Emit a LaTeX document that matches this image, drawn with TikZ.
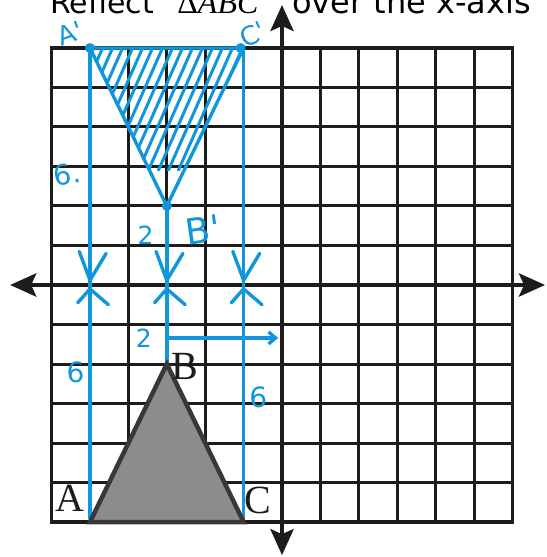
\documentclass[tikz,border=0pt]{standalone}
\usepackage{fontspec}
\usepackage{xcolor}
\usetikzlibrary{arrows.meta}
\newfontfamily\titlefont{DejaVu Sans}
\newfontfamily\handfont{DejaVu Sans}
\newfontfamily\printfont{Liberation Serif}
\definecolor{pen}{RGB}{18,150,218}
\definecolor{ink}{RGB}{28,28,28}

\begin{document}
\begin{tikzpicture}[x=38.4pt, y=39.5pt,
    gridline/.style={line width=3pt, ink},
    axisline/.style={line width=4.5pt, ink, >={Stealth[length=26pt, width=23pt, inset=5pt]}, <->},
    marker/.style={line width=3.4pt, pen, line cap=round, line join=round},
    hatchline/.style={line width=3pt, pen, line cap=round},
    penlabel/.style={pen, inner sep=0pt, font=\handfont\fontsize{28}{28}\selectfont},
    vertexlabel/.style={ink, inner sep=0pt, font=\printfont\fontsize{40}{40}\selectfont}]
    \useasboundingbox (-7.344,-6.886) rectangle (6.875,7.215);

    % Title
    \node[anchor=base west, inner sep=0pt, font=\titlefont\fontsize{30}{30}\selectfont] (title1) at (-6.04,6.87) {Reflect};
    \node[anchor=base west, inner sep=0pt, font=\printfont\fontsize{32}{32}\selectfont] (title2) at (-2.73,6.87) {Δ\textit{ABC}};
    \node[anchor=base west, inner sep=0pt, font=\titlefont\fontsize{32}{32}\selectfont] (title3) at (0.26,6.87) {over the x-axis};

    % Grid and axes
    \draw[gridline, step=1] (-6,-6) grid (6,6);
    \draw[gridline, line width=3.4pt] (-6,-6) rectangle (6,6);
    \draw[axisline] (-7.08,0) -- (6.85,0);
    \draw[axisline] (0,-6.84) -- (0,7.09);

    % Vertices
    \coordinate (A) at (-5,-6);
    \coordinate (B) at (-3,-2);
    \coordinate (C) at (-1,-6);
    \coordinate (Ar) at (-5,6);
    \coordinate (Br) at (-3,2);
    \coordinate (Cr) at (-1,6);
    \coordinate (tip) at (-0.1,-1.34);
    \coordinate (tail) at (-3,-1.34);

    % Blue construction lines
    \draw[marker] (-5,-5.9) -- (Ar);
    \draw[marker] (-1,-5.9) -- (Cr);
    \draw[marker] (B) -- (Br);
    \draw[marker, -{Straight Barb[length=7pt, width=12pt]}] (tail) -- (tip);
    \foreach \x in {-5,-3,-1} {
        \draw[marker] (\x-0.28,0.85) -- (\x,0.12) -- (\x+0.42,0.8);
        \draw[marker] (\x-0.32,-0.45) -- (\x,-0.1) -- (\x+0.48,-0.5);
    }

    % Original triangle
    \draw[line width=4.5pt, black!78, fill=black!45, line join=miter] (A) -- (B) -- (C) -- cycle;
    \node[vertexlabel] (labelA) at (-5.52,-5.4) {A};
    \node[vertexlabel] (labelB) at (-2.54,-2.05) {B};
    \node[vertexlabel] (labelC) at (-0.62,-5.45) {C};

    % Reflected triangle
    \begin{scope}
        \clip (Ar) -- (Br) -- (Cr) -- cycle;
        \clip (-6,2.9) rectangle (0,6.2);
        \foreach \s in {-6.6,-6.34,...,-1} {
            \draw[hatchline] (\s,2.9) -- ++(1.5,3.3);
        }
    \end{scope}
    \draw[marker] (Ar) -- (Br) -- (Cr) -- cycle;
    \fill[pen] (Ar) circle (5pt);
    \fill[pen] (Br) circle (5pt);
    \fill[pen] ([xshift=-3pt]Cr) circle (5pt);

    % Handwritten labels
    \node[penlabel, font=\handfont\fontsize{26}{26}\selectfont, rotate=20] (labelAr) at (-5.52,6.36) {A'};
    \node[penlabel, font=\handfont\fontsize{26}{26}\selectfont, rotate=25] (labelCr) at (-0.76,6.34) {C'};
    \node[penlabel, font=\handfont\fontsize{36}{36}\selectfont, rotate=8] (labelBr) at (-2.05,1.4) {B'};
    \node[penlabel, font=\handfont\fontsize{25}{25}\selectfont] (twoup) at (-3.55,1.25) {2};
    \node[penlabel, font=\handfont\fontsize{25}{25}\selectfont] (twodown) at (-3.6,-1.35) {2};
    \node[penlabel, rotate=10] (sixup) at (-5.6,2.8) {6.};
    \node[penlabel] (sixleft) at (-5.38,-2.22) {6};
    \node[penlabel] (sixright) at (-0.62,-2.85) {6};
\end{tikzpicture}
\end{document}
